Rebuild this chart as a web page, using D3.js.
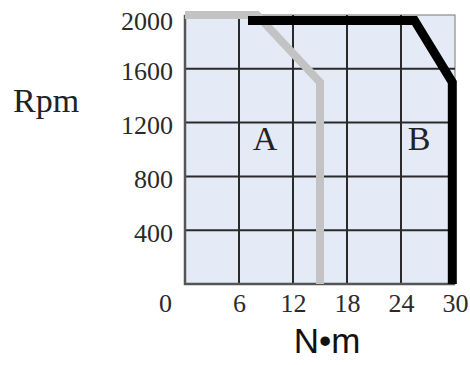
<!DOCTYPE html>
<html><head><meta charset="utf-8">
<script src="https://cdn.jsdelivr.net/npm/d3@7/dist/d3.min.js"></script>
<style>html,body{margin:0;padding:0;background:#fff;}svg{display:block;}</style>
</head><body>
<script>
const xTicks = [0, 6, 12, 18, 24, 30];
const yTicks = [400, 800, 1200, 1600, 2000];
const curveA = [[0, 2000], [8, 2000], [15, 1500], [15, 0]];
const curveB = [[7, 1960], [25.5, 1960], [29.7, 1500], [29.7, 0]];
const regionLabels = [{t: "A", x: 8.9, y: 1000}, {t: "B", x: 26, y: 1000}];

const W = 470, H = 365;
const svg = d3.select("body").append("svg").attr("width", W).attr("height", H);
const x = d3.scaleLinear().domain([0, 30]).range([185, 455]);
const y = d3.scaleLinear().domain([0, 2000]).range([284, 15]);

svg.append("rect").attr("x", x(0)).attr("y", y(2000)).attr("width", x(30) - x(0)).attr("height", y(0) - y(2000))
  .attr("fill", "#e5ebf6").attr("stroke", "#777").attr("stroke-width", 1);

// grid
svg.append("g").selectAll("line").data(xTicks.slice(1, -1)).join("line")
  .attr("x1", d => x(d)).attr("x2", d => x(d)).attr("y1", y(2000)).attr("y2", y(0))
  .attr("stroke", "#2a2a2a").attr("stroke-width", 2);
svg.append("g").selectAll("line").data(yTicks.slice(0, -1)).join("line")
  .attr("y1", d => y(d)).attr("y2", d => y(d)).attr("x1", x(0)).attr("x2", x(30))
  .attr("stroke", "#2a2a2a").attr("stroke-width", 2);
// left & bottom frame
svg.append("path").attr("d", `M${x(0)},${y(2000)}V${y(0)}H${x(30)}`)
  .attr("fill", "none").attr("stroke", "#555").attr("stroke-width", 2.5);

const line = d3.line().x(d => x(d[0])).y(d => y(d[1]));
svg.append("path").datum(curveA).attr("d", line).attr("fill", "none")
  .attr("stroke", "#c3c3c3").attr("stroke-width", 8).attr("stroke-linejoin", "miter");
svg.append("path").datum(curveB).attr("d", line).attr("fill", "none")
  .attr("stroke", "#000").attr("stroke-width", 9).attr("stroke-linejoin", "miter");

// axes labels
const xAxis = d3.axisBottom(x).tickValues(xTicks).tickSize(0).tickPadding(0).tickFormat(d3.format("d"));
const gx = svg.append("g").attr("transform", `translate(0,${y(0)})`).call(xAxis);
gx.select(".domain").remove();
gx.selectAll("text").attr("font-family", "Liberation Serif, serif").attr("font-size", 26)
  .attr("fill", "#2a2a2a").attr("dy", null).attr("y", 28)
  .attr("dx", d => d === 0 ? -20 : 0);

const yAxis = d3.axisLeft(y).tickValues(yTicks).tickSize(0).tickPadding(12).tickFormat(d3.format("d"));
const gy = svg.append("g").attr("transform", `translate(${x(0)},0)`).call(yAxis);
gy.select(".domain").remove();
gy.selectAll("text").attr("font-family", "Liberation Serif, serif").attr("font-size", 26)
  .attr("fill", "#2a2a2a").attr("dy", "0.35em")
  .attr("y", d => d === 2000 ? 5 : 2);

svg.selectAll(".region").data(regionLabels).join("text").attr("class", "region")
  .attr("x", d => x(d.x)).attr("y", d => y(d.y)).attr("text-anchor", "middle")
  .attr("font-family", "Liberation Serif, serif").attr("font-size", 34).attr("fill", "#222")
  .text(d => d.t);

svg.append("text").attr("x", 13).attr("y", 112).attr("font-family", "Liberation Serif, serif")
  .attr("font-size", 34).attr("fill", "#222").text("Rpm");
svg.append("text").attr("x", 327).attr("y", 353).attr("text-anchor", "middle")
  .attr("font-family", "Liberation Sans, Arial, sans-serif").attr("font-size", 35).attr("fill", "#111").text("N•m");
</script>
</body></html>
